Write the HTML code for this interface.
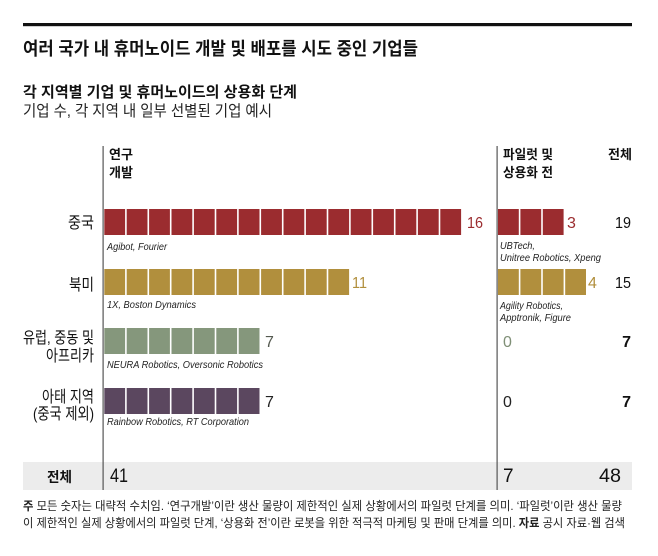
<!DOCTYPE html>
<html><head><meta charset="utf-8">
<style>
html,body{margin:0;padding:0;background:#fff;}
svg{display:block;}
text{font-family:"Liberation Sans","Noto Sans CJK KR",sans-serif;}
.k{font-family:"Liberation Sans","Noto Sans CJK KR",sans-serif;}
.it{font-family:"Liberation Sans",sans-serif;font-style:italic;font-size:10.5px;fill:#222;}
.num{font-family:"Liberation Sans",sans-serif;font-size:16px;}
</style></head>
<body>
<svg width="658" height="556" viewBox="0 0 658 556" xmlns="http://www.w3.org/2000/svg">
<rect x="0" y="0" width="658" height="556" fill="#fff"/>
<rect x="23" y="23" width="609" height="3.2" fill="#111"/>

<text x="23" y="55" font-size="18" font-weight="bold" fill="#111" textLength="395" lengthAdjust="spacingAndGlyphs">여러 국가 내 휴머노이드 개발 및 배포를 시도 중인 기업들</text>
<text x="23" y="97" font-size="15" font-weight="bold" fill="#111" textLength="274" lengthAdjust="spacingAndGlyphs">각 지역별 기업 및 휴머노이드의 상용화 단계</text>
<text x="23" y="116" font-size="15.5" fill="#222" textLength="249" lengthAdjust="spacingAndGlyphs">기업 수, 각 지역 내 일부 선별된 기업 예시</text>

<!-- totals row background -->
<rect x="23" y="462" width="609" height="28" fill="#ececec"/>

<!-- axis lines -->
<rect x="102.5" y="146" width="1.2" height="344" fill="#555"/>
<rect x="496.5" y="146" width="1.2" height="344" fill="#555"/>

<!-- column headers -->
<text x="109" y="159" font-size="13" font-weight="bold" fill="#111" textLength="24" lengthAdjust="spacingAndGlyphs">연구</text>
<text x="109" y="177" font-size="13" font-weight="bold" fill="#111" textLength="24" lengthAdjust="spacingAndGlyphs">개발</text>
<text x="503" y="159" font-size="13" font-weight="bold" fill="#111" textLength="50" lengthAdjust="spacingAndGlyphs">파일럿 및</text>
<text x="503" y="177" font-size="13" font-weight="bold" fill="#111" textLength="50" lengthAdjust="spacingAndGlyphs">상용화 전</text>
<text x="608" y="159" font-size="13" font-weight="bold" fill="#111" textLength="24" lengthAdjust="spacingAndGlyphs">전체</text>

<!-- row labels -->
<text x="94" y="228" font-size="16" fill="#111" text-anchor="end" textLength="26" lengthAdjust="spacingAndGlyphs">중국</text>
<text x="94" y="290" font-size="16" fill="#111" text-anchor="end" textLength="25" lengthAdjust="spacingAndGlyphs">북미</text>
<text x="94" y="343" font-size="16" fill="#111" text-anchor="end" textLength="71" lengthAdjust="spacingAndGlyphs">유럽, 중동 및</text>
<text x="94" y="361" font-size="16" fill="#111" text-anchor="end" textLength="48" lengthAdjust="spacingAndGlyphs">아프리카</text>
<text x="94" y="402" font-size="16" fill="#111" text-anchor="end" textLength="52" lengthAdjust="spacingAndGlyphs">아태 지역</text>
<text x="94" y="419" font-size="16" fill="#111" text-anchor="end" textLength="61" lengthAdjust="spacingAndGlyphs">(중국 제외)</text>

<!-- China bars: 16 -->
<g fill="#9b2c2f">
<rect x="104.3" y="209" width="20.8" height="26"/><rect x="126.7" y="209" width="20.8" height="26"/><rect x="149.1" y="209" width="20.8" height="26"/><rect x="171.5" y="209" width="20.8" height="26"/>
<rect x="193.9" y="209" width="20.8" height="26"/><rect x="216.3" y="209" width="20.8" height="26"/><rect x="238.7" y="209" width="20.8" height="26"/><rect x="261.1" y="209" width="20.8" height="26"/>
<rect x="283.5" y="209" width="20.8" height="26"/><rect x="305.9" y="209" width="20.8" height="26"/><rect x="328.3" y="209" width="20.8" height="26"/><rect x="350.7" y="209" width="20.8" height="26"/>
<rect x="373.1" y="209" width="20.8" height="26"/><rect x="395.5" y="209" width="20.8" height="26"/><rect x="417.9" y="209" width="20.8" height="26"/><rect x="440.3" y="209" width="20.8" height="26"/>
<rect x="498" y="209" width="20.8" height="26"/><rect x="520.4" y="209" width="20.8" height="26"/><rect x="542.8" y="209" width="20.8" height="26"/>
</g>
<!-- North America bars: 11 + 4 -->
<g fill="#b18f3d">
<rect x="104.3" y="269" width="20.8" height="26"/><rect x="126.7" y="269" width="20.8" height="26"/><rect x="149.1" y="269" width="20.8" height="26"/><rect x="171.5" y="269" width="20.8" height="26"/>
<rect x="193.9" y="269" width="20.8" height="26"/><rect x="216.3" y="269" width="20.8" height="26"/><rect x="238.7" y="269" width="20.8" height="26"/><rect x="261.1" y="269" width="20.8" height="26"/>
<rect x="283.5" y="269" width="20.8" height="26"/><rect x="305.9" y="269" width="20.8" height="26"/><rect x="328.3" y="269" width="20.8" height="26"/>
<rect x="498" y="269" width="20.8" height="26"/><rect x="520.4" y="269" width="20.8" height="26"/><rect x="542.8" y="269" width="20.8" height="26"/><rect x="565.2" y="269" width="20.8" height="26"/>
</g>
<!-- Europe bars: 7 -->
<g fill="#85977c">
<rect x="104.3" y="328" width="20.8" height="26"/><rect x="126.7" y="328" width="20.8" height="26"/><rect x="149.1" y="328" width="20.8" height="26"/><rect x="171.5" y="328" width="20.8" height="26"/>
<rect x="193.9" y="328" width="20.8" height="26"/><rect x="216.3" y="328" width="20.8" height="26"/><rect x="238.7" y="328" width="20.8" height="26"/>
</g>
<!-- Asia bars: 7 -->
<g fill="#5b475f">
<rect x="104.3" y="388" width="20.8" height="26"/><rect x="126.7" y="388" width="20.8" height="26"/><rect x="149.1" y="388" width="20.8" height="26"/><rect x="171.5" y="388" width="20.8" height="26"/>
<rect x="193.9" y="388" width="20.8" height="26"/><rect x="216.3" y="388" width="20.8" height="26"/><rect x="238.7" y="388" width="20.8" height="26"/>
</g>

<!-- value labels -->
<text class="num" x="467" y="228" fill="#9b2c2f" textLength="16" lengthAdjust="spacingAndGlyphs">16</text>
<text class="num" x="352" y="288" fill="#b18f3d" textLength="15" lengthAdjust="spacingAndGlyphs">11</text>
<text class="num" x="265" y="347" fill="#555a50">7</text>
<text class="num" x="265" y="407" fill="#222">7</text>
<text class="num" x="567" y="228" fill="#9b2c2f">3</text>
<text class="num" x="588" y="288" fill="#b18f3d">4</text>
<text class="num" x="503" y="347" fill="#7f8f76">0</text>
<text class="num" x="503" y="407" fill="#222">0</text>

<!-- row totals -->
<text class="num" x="631" y="228" fill="#111" text-anchor="end" textLength="16" lengthAdjust="spacingAndGlyphs">19</text>
<text class="num" x="631" y="288" fill="#111" text-anchor="end" textLength="16" lengthAdjust="spacingAndGlyphs">15</text>
<text class="num" x="631" y="347" fill="#111" text-anchor="end" font-weight="bold">7</text>
<text class="num" x="631" y="407" fill="#111" text-anchor="end" font-weight="bold">7</text>

<!-- company labels -->
<text class="it" x="107" y="250" textLength="60" lengthAdjust="spacingAndGlyphs">Agibot, Fourier</text>
<text class="it" x="107" y="308" textLength="89" lengthAdjust="spacingAndGlyphs">1X, Boston Dynamics</text>
<text class="it" x="107" y="368" textLength="156" lengthAdjust="spacingAndGlyphs">NEURA Robotics, Oversonic Robotics</text>
<text class="it" x="107" y="425" textLength="142" lengthAdjust="spacingAndGlyphs">Rainbow Robotics, RT Corporation</text>
<text class="it" x="500" y="249" textLength="35" lengthAdjust="spacingAndGlyphs">UBTech,</text>
<text class="it" x="500" y="261" textLength="101" lengthAdjust="spacingAndGlyphs">Unitree Robotics, Xpeng</text>
<text class="it" x="500" y="309" textLength="63" lengthAdjust="spacingAndGlyphs">Agility Robotics,</text>
<text class="it" x="500" y="321" textLength="71" lengthAdjust="spacingAndGlyphs">Apptronik, Figure</text>

<!-- totals row -->
<text x="47" y="482" font-size="14" font-weight="bold" fill="#111" textLength="25" lengthAdjust="spacingAndGlyphs">전체</text>
<text x="110" y="482" font-family="Liberation Sans" font-size="19" fill="#111" textLength="18" lengthAdjust="spacingAndGlyphs">41</text>
<text x="503" y="482" font-family="Liberation Sans" font-size="19" fill="#111">7</text>
<text x="621" y="482" font-family="Liberation Sans" font-size="19" fill="#111" text-anchor="end" textLength="22" lengthAdjust="spacingAndGlyphs">48</text>

<!-- footnote -->
<text x="23" y="510" font-size="12" fill="#222" textLength="599" lengthAdjust="spacingAndGlyphs"><tspan font-weight="bold">주</tspan> 모든 숫자는 대략적 수치임. ‘연구개발’이란 생산 물량이 제한적인 실제 상황에서의 파일럿 단계를 의미. ‘파일럿’이란 생산 물량</text>
<text x="23" y="527" font-size="12" fill="#222" textLength="602" lengthAdjust="spacingAndGlyphs">이 제한적인 실제 상황에서의 파일럿 단계, ‘상용화 전’이란 로봇을 위한 적극적 마케팅 및 판매 단계를 의미. <tspan font-weight="bold">자료</tspan> 공시 자료·웹 검색</text>
</svg>
</body></html>
